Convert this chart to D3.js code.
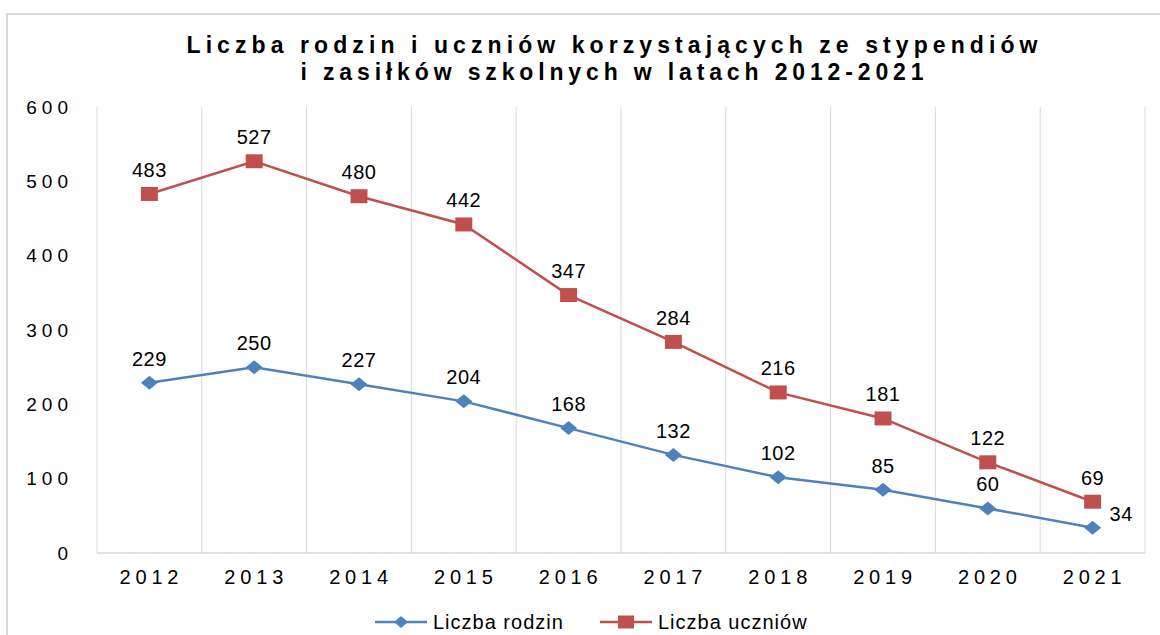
<!DOCTYPE html>
<html>
<head>
<meta charset="utf-8">
<script src="https://cdn.jsdelivr.net/npm/d3@7"></script>
<style>
  html, body { margin: 0; padding: 0; background: #fff; }
  svg { display: block; }
  text { font-family: Arial, "Liberation Sans", sans-serif; fill: #000; }
</style>
</head>
<body>
<svg id="chart" width="1160" height="635"></svg>
<script>
const years = ["2012","2013","2014","2015","2016","2017","2018","2019","2020","2021"];
const rodziny = [229, 250, 227, 204, 168, 132, 102, 85, 60, 34];
const uczniowie = [483, 527, 480, 442, 347, 284, 216, 181, 122, 69];
const yTicks = [0, 100, 200, 300, 400, 500, 600];
const seriesNames = ["Liczba rodzin", "Liczba uczniów"];
const titleLines = ["Liczba rodzin i uczniów korzystających ze stypendiów", "i zasiłków szkolnych w latach 2012-2021"];

const svg = d3.select("#chart");
const grid = "#d9d9d9";
const blue = "#4F81BD", red = "#C0504D";

// outer border
svg.append("rect").attr("x", 7).attr("y", 14).attr("width", 1200).attr("height", 700)
  .attr("fill", "none").attr("stroke", grid).attr("stroke-width", 2);

const L = 97, R = 1145, T = 107, B = 553;
const x = d3.scaleBand().domain(years).range([L, R]).padding(0);
const y = d3.scaleLinear().domain([0, 600]).range([B, T]);

// vertical gridlines at band boundaries
const bounds = years.map(d => x(d)).concat([R]);
svg.append("g").selectAll("line").data(bounds).join("line")
  .attr("x1", d => d).attr("x2", d => d).attr("y1", T).attr("y2", B)
  .attr("stroke", grid).attr("stroke-width", 1);
// baseline
svg.append("line").attr("x1", L).attr("x2", R).attr("y1", y(0)).attr("y2", y(0))
  .attr("stroke", grid).attr("stroke-width", 1.5);

// title
const tLens = [851, 623];
svg.append("g").selectAll("text").data(titleLines).join("text")
  .attr("x", 612).attr("y", (d, i) => 53 + i * 27)
  .attr("text-anchor", "middle")
  .attr("font-size", 23).attr("font-weight", "bold")
  .attr("textLength", (d, i) => tLens[i]).attr("lengthAdjust", "spacing")
  .text(d => d);

// y axis labels
const yAxis = d3.axisLeft(y).tickValues(yTicks).tickSize(0).tickPadding(0);
const gy = svg.append("g").attr("transform", `translate(${73},0)`).call(yAxis);
gy.select(".domain").remove();
gy.selectAll("text").attr("font-size", 19).attr("letter-spacing", "5px")
  .attr("font-family", "Arial, 'Liberation Sans', sans-serif").attr("fill", "#000");

// x axis labels
const xAxis = d3.axisBottom(x).tickSize(0).tickPadding(0);
const gx = svg.append("g").attr("transform", `translate(2,${570})`).call(xAxis);
gx.select(".domain").remove();
gx.selectAll("text").attr("font-size", 20).attr("letter-spacing", "4.8px")
  .attr("font-family", "Arial, 'Liberation Sans', sans-serif").attr("fill", "#000");

const cx = d => x(d) + x.bandwidth() / 2;
const line = d3.line().x((d, i) => cx(years[i])).y(d => y(d));

// lines
svg.append("path").datum(uczniowie).attr("d", line).attr("fill", "none")
  .attr("stroke", red).attr("stroke-width", 2.5);
svg.append("path").datum(rodziny).attr("d", line).attr("fill", "none")
  .attr("stroke", blue).attr("stroke-width", 2.5);

// markers
const sqW = 17, sqH = 14;
svg.append("g").selectAll("rect").data(uczniowie).join("rect")
  .attr("x", (d, i) => cx(years[i]) - sqW / 2).attr("y", d => y(d) - sqH / 2)
  .attr("width", sqW).attr("height", sqH).attr("fill", red);
const diamond = (w, h) => `M0,${-h/2}L${w/2},0L0,${h/2}L${-w/2},0Z`;
svg.append("g").selectAll("path").data(rodziny).join("path")
  .attr("transform", (d, i) => `translate(${cx(years[i])},${y(d)})`)
  .attr("d", diamond(17, 14)).attr("fill", blue);

// data labels
svg.append("g").selectAll("text").data(uczniowie).join("text")
  .attr("x", (d, i) => cx(years[i])).attr("y", d => y(d) - 17)
  .attr("text-anchor", "middle").attr("font-size", 20).attr("letter-spacing", "0.5px")
  .text(d => d);
svg.append("g").selectAll("text").data(rodziny).join("text")
  .attr("x", (d, i) => i === years.length - 1 ? cx(years[i]) + 17 : cx(years[i]))
  .attr("y", (d, i) => i === years.length - 1 ? y(d) - 7 : y(d) - 17)
  .attr("text-anchor", (d, i) => i === years.length - 1 ? "start" : "middle")
  .attr("font-size", 20).attr("letter-spacing", "0.5px")
  .text(d => d);

// legend
const leg = [
  { name: seriesNames[0], color: blue, x0: 375, type: "diamond" },
  { name: seriesNames[1], color: red, x0: 600, type: "square" }
];
const ly = 622;
leg.forEach(l => {
  svg.append("line").attr("x1", l.x0).attr("x2", l.x0 + 52).attr("y1", ly).attr("y2", ly)
    .attr("stroke", l.color).attr("stroke-width", 2.5);
  if (l.type === "diamond") {
    svg.append("path").attr("transform", `translate(${l.x0 + 26},${ly})`)
      .attr("d", diamond(14, 12)).attr("fill", l.color);
  } else {
    svg.append("rect").attr("x", l.x0 + 26 - 8).attr("y", ly - 6.5).attr("width", 16).attr("height", 13)
      .attr("fill", l.color);
  }
  svg.append("text").attr("x", l.x0 + 58).attr("y", ly + 5 + 1.5)
    .attr("font-size", 20).attr("letter-spacing", "1px").text(l.name);
});
</script>
</body>
</html>
